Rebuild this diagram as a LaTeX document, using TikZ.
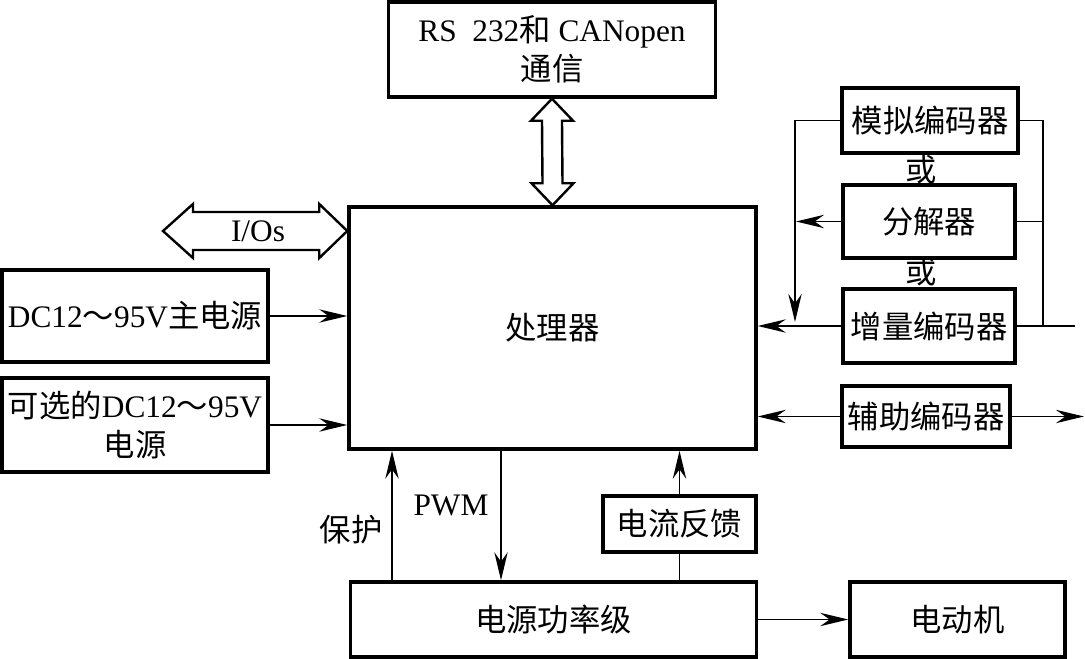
\documentclass[tikz,border=0pt]{standalone}
\usepackage{fontspec}
\setmainfont{Liberation Serif}
\newfontfamily\cjk{Noto Sans CJK SC}
\newcommand{\cn}[1]{{\cjk #1}}
\usetikzlibrary{arrows.meta,calc}
\begin{document}
\begin{tikzpicture}[x=0.75pt,y=-0.75pt,
  font=\fontsize{23.5pt}{29pt}\selectfont,
  bx/.style 2 args={draw, line width=2.6pt, inner sep=0pt, align=center,
    minimum width=#1*0.75pt, minimum height=#2*0.75pt},
  arr/.style={line width=1.4pt, -{Stealth[length=21pt,width=10pt,inset=7pt]}},
  ln/.style={line width=1.4pt},
  blk/.style={line width=1.8pt, line join=miter},
  lbl/.style={inner sep=0pt}]
\useasboundingbox (0,0) rectangle (1085,659);

% boxes
\node[bx={327}{95}] (rs) at (552,49.5) {RS\ \ 232\cn{和} CANopen\\\cn{通信}};
\node[bx={407}{242}] (proc) at (552.5,328) {\cn{处理器}};
\node[bx={266}{92}] (dc1) at (135,316) {DC12\cn{～}95V\cn{主电源}};
\node[bx={266}{94}] (dc2) at (135,425) {\cn{可选的}DC12\cn{～}95V\\\cn{电源}};
\node[bx={176}{65}] (mn) at (930,120.5) {\cn{模拟编码器}};
\node[bx={172}{73}] (fj) at (929,221.5) {\cn{分解器}};
\node[bx={172}{74}] (zl) at (929,326) {\cn{增量编码器}};
\node[bx={168}{61}] (fz) at (926,416.5) {\cn{辅助编码器}};
\node[bx={153}{56}] (fb) at (679.5,524) {\cn{电流反馈}};
\node[bx={406}{75}] (pw) at (553.5,619.5) {\cn{电源功率级}};
\node[bx={215}{75}] (mt) at (957.5,619.5) {\cn{电动机}};

% labels
\node[lbl] (or1) at (921,170) {\cn{或}};
\node[lbl] (or2) at (921,272) {\cn{或}};
\node[lbl] (io) at (258,231) {I/Os};
\node[lbl] (bh) at (351,530) {\cn{保护}};
\node[lbl] (pwm) at (451,505) {PWM};

% vertical hollow double arrow
\draw[blk] (rs.south)
  -- ++(21,22) -- ++(-11,0) -- ($(proc.north)+(10,-22)$) -- ++(11,0)
  -- (proc.north) -- ++(-21,-22) -- ++(11,0) -- ($(rs.south)+(-10,22)$)
  -- ++(-11,0) -- cycle;

% I/Os hollow double arrow
\coordinate (ioL) at (163,231);
\coordinate (ioR) at (proc.west |- ioL);
\draw[blk] (ioL) -- ++(30,-27) -- ++(0,8) -- ($(ioR)+(-28,-19)$) -- ++(0,-8)
  -- (ioR) -- ++(-28,27) -- ++(0,-8) -- ($(ioL)+(30,19)$) -- ++(0,8) -- cycle;

% power inputs
\draw[arr] (dc1.east) -- (dc1.east -| proc.west);
\draw[arr] (dc2.east) -- (dc2.east -| proc.west);

% encoders, left side
\coordinate (lc) at (795,322);
\draw[arr] (mn.west) -| (lc);
\coordinate (fjc) at (796,0);
\draw[arr] (fj.west) -- (fj.west -| fjc);
\draw[arr] (zl.west) -- (zl.west -| proc.east);

% encoders, right side
\coordinate (rr) at (1043,0);
\draw[ln] (mn.east) -| (zl.east -| rr);
\draw[ln] (fj.east) -- (fj.east -| rr);
\coordinate (rend) at (1075,0);
\draw[ln] (zl.east) -- (zl.east -| rend);

% auxiliary encoder
\draw[arr] (fz.west) -- (fz.west -| proc.east);
\coordinate (fzend) at (1084,0);
\draw[arr] (fz.east) -- (fz.east -| fzend);

% bottom
\coordinate (bx) at (392,0);
\draw[arr] (pw.north -| bx) -- (proc.south -| bx);
\coordinate (px) at (501,0);
\draw[arr] (proc.south -| px) -- (pw.north -| px);
\draw[ln] (pw.north -| fb.south) -- (fb.south);
\draw[arr] (fb.north) -- (proc.south -| fb.north);
\draw[arr] (pw.east) -- (mt.west);
\end{tikzpicture}
\end{document}
